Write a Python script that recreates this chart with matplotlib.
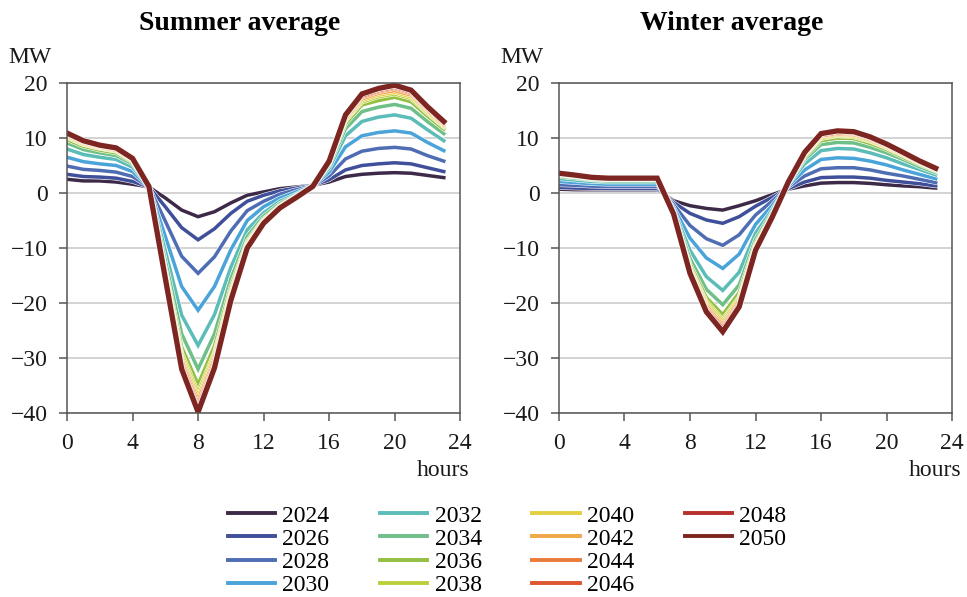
import matplotlib.pyplot as plt
import matplotlib.patheffects as pe
from matplotlib.lines import Line2D

plt.rcParams['font.family'] = ['Liberation Serif', 'DejaVu Serif']
plt.rcParams['axes.unicode_minus'] = True

hours = list(range(24))
years = ['2024', '2026', '2028', '2030', '2032', '2034', '2036',
         '2038', '2040', '2042', '2044', '2046', '2048', '2050']
colors = ['#3d2a48', '#3f4f9a', '#4f6db3', '#4aa3d9', '#5bbcb8', '#6fbf88', '#93bf42',
          '#bccf3a', '#e3cf42', '#f0a848', '#ec7a3a', '#de5530', '#b8302c', '#7c2521']

# summer average profile, MW per hour
summer = {
    '2024': [2.5, 2.2, 2.2, 2.0, 1.6, 1.1, -0.9, -3.1, -4.3, -3.4, -1.8, -0.4,
             0.2, 0.8, 1.1, 1.4, 2.0, 3.0, 3.4, 3.6, 3.7, 3.6, 3.2, 2.8],
    '2026': [3.4, 3.0, 2.9, 2.7, 2.1, 1.1, -2.5, -6.3, -8.5, -6.5, -3.7, -1.5,
             -0.4, 0.4, 0.9, 1.4, 2.4, 4.2, 5.0, 5.3, 5.5, 5.3, 4.6, 3.9],
    '2028': [4.9, 4.3, 4.1, 3.8, 3.0, 1.1, -5.1, -11.5, -14.6, -11.6, -6.9, -3.2,
             -1.5, -0.2, 0.6, 1.3, 3.1, 6.2, 7.6, 8.1, 8.3, 8.0, 6.8, 5.8],
    '2030': [6.5, 5.7, 5.3, 5.0, 3.9, 1.1, -7.9, -17.0, -21.3, -17.0, -10.3, -5.0,
             -2.5, -0.9, 0.2, 1.3, 3.8, 8.4, 10.4, 11.0, 11.3, 10.9, 9.2, 7.7],
    '2032': [8.0, 7.0, 6.5, 6.1, 4.7, 1.2, -10.5, -22.2, -27.7, -22.1, -13.5, -6.7,
             -3.6, -1.5, -0.2, 1.3, 4.5, 10.4, 13.0, 13.8, 14.2, 13.6, 11.5, 9.5],
    '2034': [9.1, 7.9, 7.3, 6.8, 5.3, 1.2, -12.3, -25.6, -32.0, -25.6, -15.6, -7.9,
             -4.2, -1.9, -0.4, 1.2, 5.0, 11.7, 14.8, 15.6, 16.1, 15.4, 13.0, 10.8],
    '2036': [9.7, 8.5, 7.8, 7.3, 5.6, 1.2, -13.5, -28.0, -34.8, -27.8, -17.0, -8.7,
             -4.7, -2.2, -0.5, 1.2, 5.3, 12.6, 16.0, 16.8, 17.4, 16.6, 14.0, 11.6],
    '2038': [10.1, 8.8, 8.1, 7.6, 5.8, 1.2, -14.0, -29.1, -36.3, -29.0, -17.7, -9.0,
             -4.9, -2.4, -0.6, 1.2, 5.4, 13.1, 16.5, 17.5, 18.0, 17.2, 14.5, 12.0],
    '2040': [10.2, 8.9, 8.2, 7.7, 5.9, 1.2, -14.3, -29.7, -37.0, -29.5, -18.1, -9.2,
             -5.0, -2.4, -0.6, 1.2, 5.5, 13.3, 16.8, 17.8, 18.3, 17.5, 14.7, 12.2],
    '2042': [10.4, 9.1, 8.3, 7.8, 6.0, 1.2, -14.6, -30.3, -37.7, -30.1, -18.4, -9.4,
             -5.2, -2.5, -0.7, 1.2, 5.6, 13.5, 17.1, 18.1, 18.6, 17.8, 15.0, 12.4],
    '2044': [10.6, 9.2, 8.4, 8.0, 6.1, 1.2, -14.9, -30.8, -38.4, -30.7, -18.8, -9.6,
             -5.3, -2.6, -0.7, 1.2, 5.6, 13.8, 17.4, 18.4, 19.0, 18.1, 15.2, 12.6],
    '2046': [10.7, 9.3, 8.5, 8.1, 6.2, 1.2, -15.1, -31.3, -38.9, -31.1, -19.1, -9.8,
             -5.4, -2.6, -0.8, 1.2, 5.7, 13.9, 17.6, 18.6, 19.2, 18.3, 15.4, 12.8],
    '2048': [10.8, 9.4, 8.6, 8.1, 6.3, 1.2, -15.4, -31.7, -39.4, -31.5, -19.3, -9.9,
             -5.4, -2.7, -0.8, 1.2, 5.8, 14.1, 17.9, 18.8, 19.4, 18.5, 15.6, 12.9],
    '2050': [10.9, 9.5, 8.7, 8.2, 6.3, 1.2, -15.5, -32.0, -39.8, -31.8, -19.5, -10.0,
             -5.5, -2.7, -0.8, 1.2, 5.8, 14.2, 18.0, 19.0, 19.6, 18.7, 15.7, 13.0],
}

# winter average profile, MW per hour
winter = {
    '2024': [0.7, 0.6, 0.6, 0.6, 0.6, 0.6, 0.6, -1.4, -2.3, -2.8, -3.1, -2.3,
             -1.4, -0.3, 0.7, 1.3, 1.8, 1.9, 1.9, 1.75, 1.5, 1.3, 1.15, 0.9],
    '2026': [1.0, 0.9, 0.85, 0.8, 0.8, 0.8, 0.8, -1.7, -3.7, -4.9, -5.5, -4.3,
             -2.4, -0.8, 0.8, 2.0, 2.8, 2.9, 2.9, 2.7, 2.3, 2.0, 1.7, 1.3],
    '2028': [1.5, 1.4, 1.25, 1.2, 1.2, 1.2, 1.2, -2.1, -5.9, -8.3, -9.5, -7.6,
             -4.0, -1.5, 1.1, 3.1, 4.4, 4.6, 4.6, 4.2, 3.6, 3.1, 2.5, 1.9],
    '2030': [2.1, 1.9, 1.7, 1.6, 1.6, 1.6, 1.6, -2.6, -8.2, -11.8, -13.7, -11.1,
             -5.7, -2.3, 1.3, 4.2, 6.1, 6.4, 6.3, 5.8, 5.1, 4.2, 3.4, 2.6],
    '2032': [2.6, 2.35, 2.1, 2.0, 2.0, 2.0, 2.0, -3.0, -10.4, -15.2, -17.7, -14.4,
             -7.3, -3.1, 1.6, 5.3, 7.7, 8.1, 8.0, 7.3, 6.4, 5.3, 4.3, 3.3],
    '2034': [3.0, 2.7, 2.4, 2.2, 2.2, 2.2, 2.2, -3.3, -11.9, -17.5, -20.3, -16.7,
             -8.4, -3.6, 1.7, 6.1, 8.8, 9.2, 9.1, 8.3, 7.3, 6.1, 4.8, 3.7],
    '2036': [3.2, 2.9, 2.5, 2.4, 2.4, 2.4, 2.4, -3.5, -12.9, -19.0, -22.1, -18.1,
             -9.1, -3.9, 1.8, 6.5, 9.5, 10.0, 9.9, 9.0, 7.9, 6.5, 5.2, 4.0],
    '2038': [3.3, 3.0, 2.6, 2.5, 2.5, 2.5, 2.5, -3.6, -13.4, -19.7, -23.0, -18.9,
             -9.5, -4.1, 1.9, 6.8, 9.9, 10.4, 10.2, 9.4, 8.2, 6.8, 5.4, 4.1],
    '2040': [3.4, 3.0, 2.7, 2.5, 2.5, 2.5, 2.5, -3.6, -13.6, -20.1, -23.4, -19.2,
             -9.7, -4.2, 1.9, 6.9, 10.1, 10.5, 10.4, 9.5, 8.3, 6.9, 5.5, 4.2],
    '2042': [3.4, 3.1, 2.7, 2.6, 2.6, 2.6, 2.6, -3.7, -13.9, -20.5, -23.9, -19.6,
             -9.9, -4.2, 1.9, 7.0, 10.3, 10.7, 10.6, 9.7, 8.5, 7.0, 5.6, 4.3],
    '2044': [3.5, 3.1, 2.8, 2.6, 2.6, 2.6, 2.6, -3.7, -14.1, -20.9, -24.3, -20.0,
             -10.0, -4.3, 2.0, 7.2, 10.4, 10.9, 10.8, 9.9, 8.6, 7.2, 5.7, 4.4],
    '2046': [3.5, 3.2, 2.8, 2.7, 2.7, 2.7, 2.7, -3.7, -14.3, -21.1, -24.6, -20.2,
             -10.2, -4.4, 2.0, 7.3, 10.6, 11.1, 10.9, 10.0, 8.7, 7.3, 5.7, 4.4],
    '2048': [3.6, 3.2, 2.8, 2.7, 2.7, 2.7, 2.7, -3.8, -14.5, -21.4, -25.0, -20.5,
             -10.3, -4.5, 2.0, 7.3, 10.7, 11.2, 11.1, 10.1, 8.8, 7.3, 5.8, 4.5],
    '2050': [3.6, 3.25, 2.85, 2.7, 2.7, 2.7, 2.7, -3.8, -14.6, -21.6, -25.2, -20.7,
             -10.4, -4.5, 2.0, 7.4, 10.8, 11.3, 11.15, 10.2, 8.9, 7.4, 5.85, 4.5],
}

panels = [('Summer average', summer), ('Winter average', winter)]
fig = plt.figure(figsize=(9.67, 5.97), dpi=100)
lefts = [0.0693, 0.578]

for (title, data), left in zip(panels, lefts):
    ax = fig.add_axes([left, 0.308, 0.4066, 0.553])
    for yr, col in zip(years, colors):
        lw = 3.8 if yr == '2050' else 2.5
        ax.plot(hours, data[yr], color=col, lw=lw, solid_joinstyle='miter',
                path_effects=[pe.Stroke(linewidth=lw + 0.8, foreground='white'), pe.Normal()])
    ax.set_xlim(0, 24)
    ax.set_ylim(-40, 20)
    ax.set_xticks(range(0, 25, 4))
    ax.set_yticks(range(-40, 21, 10))
    ax.yaxis.grid(True, color='#c8c8c8', lw=1.1)
    ax.set_axisbelow(True)
    for sp in ax.spines.values():
        sp.set_color('#555555')
        sp.set_linewidth(1.1)
    ax.tick_params(axis='both', colors='#555555', labelcolor='#1a1a1a',
                   labelsize=17, length=6, width=1.1)
    ax.tick_params(axis='y', pad=8)
    ax.tick_params(axis='x', pad=8)
    ax.text(0.44, 1.18, title, transform=ax.transAxes, ha='center', va='center',
            fontsize=20, fontweight='bold')
    ax.text(-0.094, 1.076, 'MW', transform=ax.transAxes, ha='center', va='center',
            fontsize=17, color='#1a1a1a')
    ax.text(0.956, -0.173, 'hours', transform=ax.transAxes, ha='center', va='center',
            fontsize=17, color='#1a1a1a')

# legend: 4 columns of 4 rows, last column has two entries
handles = [Line2D([], [], color=c, lw=2.8) for c in colors]
labels = list(years)
handles += [Line2D([], [], color='none')] * 2
labels += ['', '']
fig.legend(handles, labels, loc='upper left', bbox_to_anchor=(228 / 967, 1 - 505 / 597),
           ncol=4, frameon=False, fontsize=17, borderpad=0, borderaxespad=0,
           handlelength=2.0, handletextpad=0.3, columnspacing=2.15, labelspacing=0.07)

fig.savefig('out.png', dpi=100)
